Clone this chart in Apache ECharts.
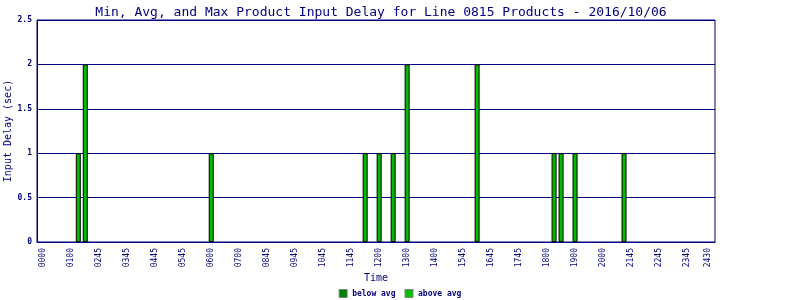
<!DOCTYPE html>
<html>
<head>
<meta charset="utf-8">
<script src="https://cdn.jsdelivr.net/npm/echarts@6/dist/echarts.min.js"></script>
<style>html,body{margin:0;padding:0;background:#fff}#c{width:800px;height:300px}</style>
</head>
<body>
<div id="c"></div>
<script>
// time slot positions for tick labels and their texts
const tickSlots = [0,4,8,12,16,20,24,28,32,36,40,44,48,52,56,60,64,68,72,76,80,84,88,92,95];
const tickLabels = ['0000','0100','0245','0345','0445','0545','0600','0700','0845','0945','1045','1145','1200','1300','1400','1545','1645','1745','1800','1900','2000','2145','2245','2345','2430'];
// bars: slot index and delay (sec)
const barSlots = [5,6,24,46,48,50,52,62,73,74,76,83];
const barValues = [1,2,1,1,1,1,2,2,1,1,1,1];
const belowAvg = [];

const navy = '#000080';
const mono = '"DejaVu Sans Mono", monospace';
const chart = echarts.init(document.getElementById('c'), null, {renderer:'canvas'});
chart.setOption({
  animation:false,
  backgroundColor:'#fff',
  title:{text:'Min, Avg, and Max Product Input Delay for Line 0815 Products - 2016/10/06',
    left:376, textAlign:'center', top:1,
    textStyle:{fontFamily:mono, fontSize:13, fontWeight:'normal', color:navy}},
  legend:{bottom:2, left:'center', itemWidth:8, itemHeight:8, itemGap:9, padding:[0,5],
    icon:'rect',
    textStyle:{fontFamily:mono, fontSize:8, color:navy, fontWeight:'bold'},
    data:[{name:'below avg', itemStyle:{color:'#008000', borderColor:'#808080', borderWidth:1}},
          {name:'above avg', itemStyle:{color:'#00C000', borderColor:'#808080', borderWidth:1}}]},
  grid:{left:37, right:85, top:20, bottom:58, show:true, borderColor:navy, borderWidth:1, backgroundColor:'#fff',
    containLabel:false, outerBoundsMode:'none'},
  xAxis:{type:'value', min:-0.9, max:96,
    name:'Time', nameLocation:'middle', nameGap:31, nameMoveOverlap:false,
    nameTextStyle:{fontFamily:mono, fontSize:10, color:navy},
    axisLine:{show:true, onZero:false, lineStyle:{color:navy}},
    axisTick:{show:false},
    splitLine:{show:false},
    axisLabel:{customValues:tickSlots, rotate:90, margin:6, fontFamily:mono, fontSize:8, color:navy,
      formatter:function(v){const i=tickSlots.indexOf(Math.round(v)); return i>=0?tickLabels[i]:'';}}},
  yAxis:{type:'value', min:0, max:2.5, interval:0.5,
    name:'Input Delay (sec)', nameLocation:'middle', nameGap:24, nameMoveOverlap:false,
    nameTextStyle:{fontFamily:mono, fontSize:10, color:navy},
    axisLine:{show:true, onZero:false, lineStyle:{color:navy}},
    axisTick:{show:false},
    splitLine:{show:true, lineStyle:{color:navy, width:1}},
    axisLabel:{margin:5, fontFamily:mono, fontSize:8, fontWeight:'bold', color:navy}},
  series:[
    {name:'below avg', type:'bar', barWidth:5, data:belowAvg, itemStyle:{color:'#008000'}},
    {name:'above avg', type:'bar', barWidth:5, barGap:'-100%',
     data:barSlots.map((s,i)=>[s,barValues[i]]),
     itemStyle:{color:'#00BB00', borderColor:'#000', borderWidth:1}}
  ]
});
</script>
</body>
</html>
